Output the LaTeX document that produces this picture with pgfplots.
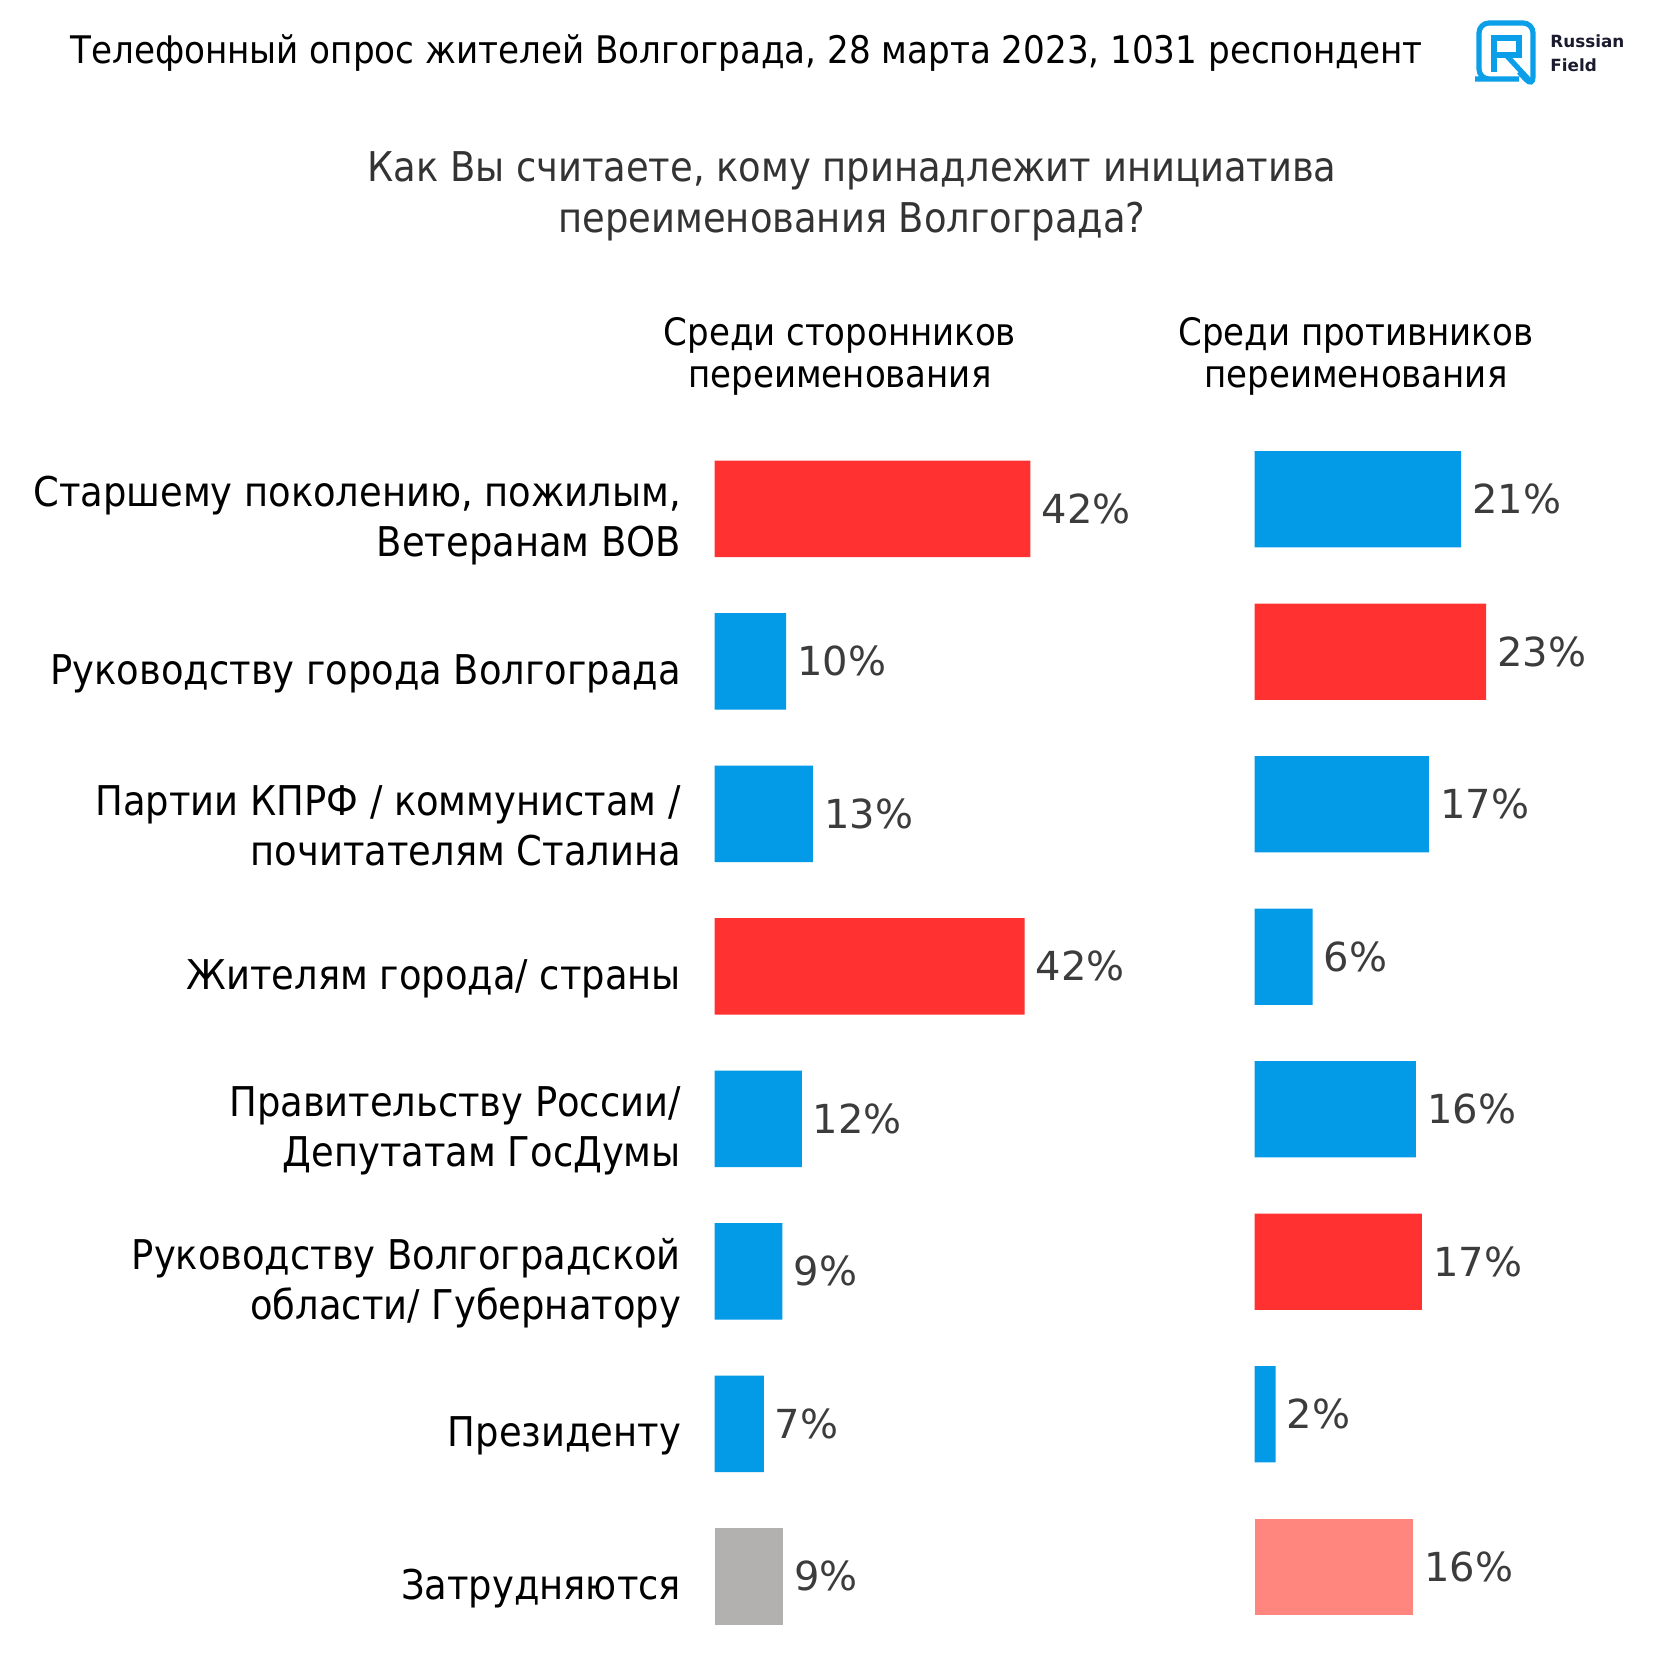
\documentclass[border=0pt]{standalone}
\usepackage{pgfplots}
\pgfplotsset{compat=1.18}
\usepackage{fontspec}
\setmainfont{DejaVu Sans Condensed}
\newfontfamily\valfont{DejaVu Sans}
\definecolor{rfred}{HTML}{FF3131}
\definecolor{rfblue}{HTML}{039BE7}
\definecolor{rfgray}{HTML}{B3B0B0}
\definecolor{rfpink}{HTML}{FF857F}
\definecolor{valtext}{HTML}{3C3C3C}
\definecolor{qtext}{HTML}{333333}
\definecolor{logoblue}{HTML}{0A9FE8}
\definecolor{logotext}{HTML}{1B1B2F}
\pgfplotsset{
  rfbar/.style={
    xbar, scale only axis, y dir=reverse,
    ymin=-0.5, ymax=7.5, xmin=0,
    height=610pt, bar width=48.2pt, bar shift=0pt,
    axis line style={draw=none}, tick style={draw=none},
    major tick length=0pt, xtick=\empty, clip=false,
    nodes near coords, point meta=explicit symbolic,
    nodes near coords style={anchor=west, inner sep=0pt, xshift=5.4pt,
      font=\valfont\fontsize{20}{24}\selectfont, text=valtext},
    every axis plot/.append style={draw=none},
  }
}
\begin{document}
\begin{tikzpicture}[x=0.5pt,y=-0.5pt]
\path[fill=white] (0,0) rectangle (1680,1680);
% titles
\node[anchor=base, inner sep=0pt, font=\fontsize{19}{23}\selectfont] at (746.5,64) {Телефонный опрос жителей Волгограда, 28 марта 2023, 1031 респондент};
\node[anchor=base, inner sep=0pt, text=qtext, font=\fontsize{20.5}{25}\selectfont] at (852,182) {Как Вы считаете, кому принадлежит инициатива};
\node[anchor=base, inner sep=0pt, text=qtext, font=\fontsize{20.5}{25}\selectfont] at (852,232.5) {переименования Волгограда?};
\node[anchor=base, inner sep=0pt, font=\fontsize{18.9}{21}\selectfont] at (840,345) {Среди сторонников};
\node[anchor=base, inner sep=0pt, font=\fontsize{18.9}{21}\selectfont] at (840,387) {переименования};
\node[anchor=base, inner sep=0pt, font=\fontsize{18.9}{21}\selectfont] at (1356,345) {Среди противников};
\node[anchor=base, inner sep=0pt, font=\fontsize{18.9}{21}\selectfont] at (1356,387) {переименования};
% logo
\draw[logoblue, line width=2.6pt, rounded corners=5pt] (1519,79) -- (1485,79) -- (1479,79) -- (1479,23) -- (1533,23) -- (1533,87) -- (1519,72);
\draw[logoblue, line width=2.6pt] (1494,72) -- (1494,38) -- (1519,38) -- (1519,55) -- (1494,55);
\draw[logoblue, line width=2.6pt] (1506,55) -- (1531,82);
\node[anchor=base west, inner sep=0pt, text=logotext, font=\valfont\bfseries\fontsize{8.4}{9}\selectfont] at (1550,47.3) {Russian};
\node[anchor=base west, inner sep=0pt, text=logotext, font=\valfont\bfseries\fontsize{8.4}{9}\selectfont] at (1550,71.7) {Field};
% left panel
\begin{axis}[rfbar, at={(357.3pt,-216.3pt)}, anchor=north west,
  width=186.25pt, xmax=50,
  ytick={0,...,7},
  yticklabels={{Старшему поколению, пожилым,\\Ветеранам ВОВ},
    {Руководству города Волгограда},
    {Партии КПРФ / коммунистам /\\почитателям Сталина},
    {Жителям города/ страны},
    {Правительству России/\\Депутатам ГосДумы},
    {Руководству Волгоградской\\области/ Губернатору},
    {Президенту},
    {Затрудняются}},
  yticklabel style={anchor=east, align=right, inner sep=0pt, xshift=-16.6pt, yshift=-6pt,
    font=\fontsize{20.5}{25}\selectfont},
]
\addplot[fill=rfred] coordinates {(42.4,0) [42\%] (41.6,3) [42\%]};
\addplot[fill=rfblue] coordinates {(9.6,1) [10\%] (13.2,2) [13\%] (11.7,4) [12\%] (9.1,5) [9\%] (6.6,6) [7\%]};
\addplot[fill=rfgray] coordinates {(9.2,7) [9\%]};
\end{axis}
% right panel
\begin{axis}[rfbar, at={(627.3pt,-211.5pt)}, anchor=north west,
  width=150.3pt, xmax=30, ytick=\empty,
]
\addplot[fill=rfblue] coordinates {(20.6,0) [21\%] (17.4,2) [17\%] (5.8,3) [6\%] (16.1,4) [16\%] (2.1,6) [2\%]};
\addplot[fill=rfred] coordinates {(23.1,1) [23\%] (16.7,5) [17\%]};
\addplot[fill=rfpink] coordinates {(15.8,7) [16\%]};
\end{axis}
\end{tikzpicture}
\end{document}
